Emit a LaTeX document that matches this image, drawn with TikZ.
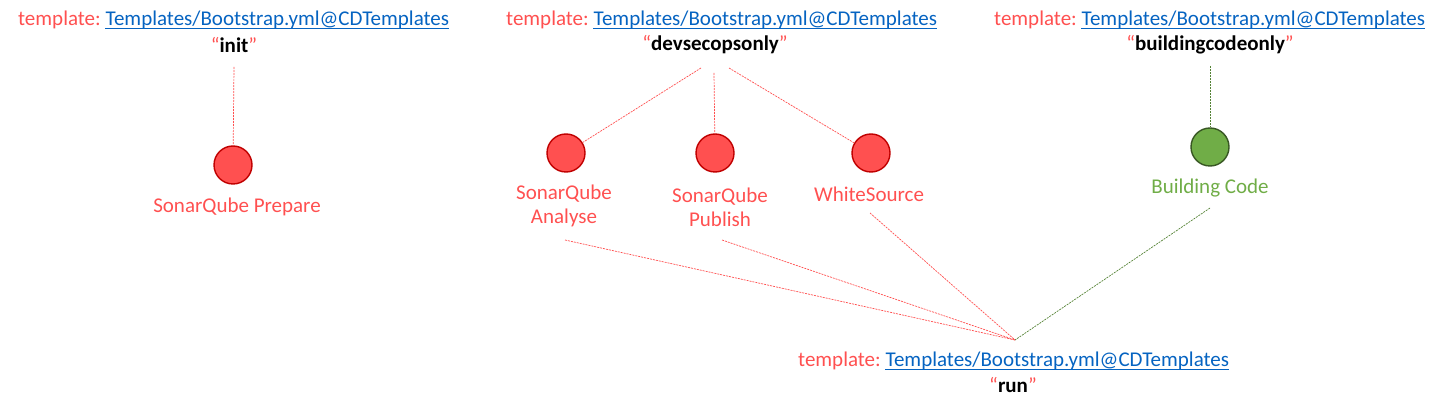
\documentclass[tikz,border=0pt]{standalone}
\usepackage{fontspec}
\setmainfont{Carlito}
\usetikzlibrary{calc}
\definecolor{tred}{HTML}{FF5050}
\definecolor{dred}{HTML}{C00000}
\definecolor{link}{HTML}{0563C1}
\definecolor{tgreen}{HTML}{70AD47}
\definecolor{dgreen}{HTML}{385723}
\definecolor{lgreen}{HTML}{548235}
\newcommand{\ulink}[1]{\tikz[baseline=(w.base)]{\node[inner sep=0pt,text=link] (w) {#1};\draw[link,line width=0.9pt] ([yshift=-2.5pt]w.base west) -- ([yshift=-2.5pt]w.base east);}}
\newcommand{\tmpl}{\textcolor{tred}{template:}\hspace{0.2em}\ulink{Templates/Bootstrap.yml@CDTemplates}}
\newcommand{\qword}[1]{\textcolor{tred}{“}\textbf{#1}\textcolor{tred}{”}}
\begin{document}
\begin{tikzpicture}[x=1pt,y=-1pt,
  every node/.style={inner sep=0pt,font=\fontsize{21}{24}\selectfont},
  lbl/.style={text=tred,align=center},
  glbl/.style={text=tgreen,align=center},
  rdot/.style={circle,draw=dred,fill=tred,line width=1.4pt,minimum size=38pt},
  gdot/.style={circle,draw=dgreen,fill=tgreen,line width=1.4pt,minimum size=38pt},
  rlink/.style={draw=tred,line width=0.7pt,dash pattern=on 2pt off 1pt},
  glink/.style={draw=lgreen,line width=0.7pt,dash pattern=on 2pt off 1pt}]
\useasboundingbox (0,0) rectangle (1445,411);
% headers
\node (t1) at (234,20) {\tmpl};
\node (q1) at (234,45) {\qword{init}};
\node (t2) at (722,20) {\tmpl};
\node (q2) at (715,45) {\qword{devsecopsonly}};
\node (t3) at (1210,20) {\tmpl};
\node (q3) at (1210,45) {\qword{buildingcodeonly}};
\node (t4) at (1014,361) {\tmpl};
\node (q4) at (1013,385) {\qword{run}};
% dots
\node[rdot] (sp) at (233,165) {};
\node[rdot] (sa) at (566,153) {};
\node[rdot] (spu) at (715,153) {};
\node[rdot] (ws) at (871,153) {};
\node[gdot] (bc) at (1210,147) {};
% labels
\node[lbl] (lsp) at (237,207) {SonarQube Prepare};
\node[lbl,align=center] (lsa) at (564,206) {SonarQube\\Analyse};
\node[lbl,align=center] (lspu) at (720,207) {SonarQube\\Publish};
\node[lbl] (lws) at (869,194) {WhiteSource};
\node[glbl] (lbc) at (1210,188) {Building Code};
% connector ends
\coordinate (a1) at (234,67);
\coordinate (a2l) at (701,68);
\coordinate (a2m) at (714,73);
\coordinate (a2r) at (729,68);
\coordinate (a3) at (1210,66);
\coordinate (bsa) at (565,240);
\coordinate (bspu) at (722,240);
\coordinate (bws) at (870,213);
\coordinate (bbc) at (1210,208);
\coordinate (m) at (1015,340);
% connectors
\draw[rlink] (a1) -- (sp);
\draw[rlink] (a2l) -- (sa);
\draw[rlink] (a2m) -- (spu);
\draw[rlink] (a2r) -- (ws);
\draw[glink] (a3) -- (bc);
\draw[rlink] (bsa) -- (m);
\draw[rlink] (bspu) -- (m);
\draw[rlink] (bws) -- (m);
\draw[glink] (bbc) -- (m);
\end{tikzpicture}
\end{document}
